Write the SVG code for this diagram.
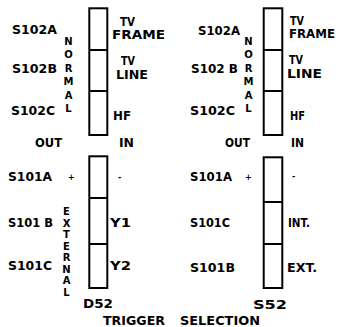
<svg xmlns="http://www.w3.org/2000/svg" width="339" height="327" viewBox="0 0 339 327">
<style>
.bx{fill:none;stroke:#000;stroke-width:2}
.dv{stroke:#000;stroke-width:2}
text{font-family:"DejaVu Sans","Liberation Sans",sans-serif;font-weight:bold;font-size:11.5px;fill:#000}
.v{font-size:10px;text-anchor:middle}
.s{font-size:8px}
</style>
<rect width="339" height="327" fill="#fff"/>
<g id="switch-d52-upper">
<rect class="bx" x="89.3" y="8.3" width="18" height="126.7"/>
<line class="dv" x1="89.3" y1="50" x2="107.3" y2="50"/>
<line class="dv" x1="89.3" y1="91" x2="107.3" y2="91"/>
<text x="12" y="34" textLength="45" lengthAdjust="spacingAndGlyphs">S102A</text>
<text x="12" y="73" textLength="45" lengthAdjust="spacingAndGlyphs">S102B</text>
<text x="11" y="115" textLength="44" lengthAdjust="spacingAndGlyphs">S102C</text>
<text x="120" y="26" textLength="15" lengthAdjust="spacingAndGlyphs">TV</text>
<text x="112" y="39" textLength="53" lengthAdjust="spacingAndGlyphs">FRAME</text>
<text x="121" y="65" textLength="14" lengthAdjust="spacingAndGlyphs">TV</text>
<text x="116" y="79" textLength="32" lengthAdjust="spacingAndGlyphs">LINE</text>
<text x="113" y="120" textLength="18" lengthAdjust="spacingAndGlyphs">HF</text>
<text class="v" x="68.5" y="45">N</text>
<text class="v" x="68.5" y="58">O</text>
<text class="v" x="68.5" y="72">R</text>
<text class="v" x="68.5" y="85">M</text>
<text class="v" x="68.5" y="99">A</text>
<text class="v" x="68.5" y="112">L</text>
<text x="35" y="147" textLength="27" lengthAdjust="spacingAndGlyphs">OUT</text>
<text x="119" y="147" textLength="15" lengthAdjust="spacingAndGlyphs">IN</text>
</g>
<g id="switch-d52-lower">
<rect class="bx" x="89.3" y="156.3" width="18" height="131.7"/>
<line class="dv" x1="89.3" y1="198" x2="107.3" y2="198"/>
<line class="dv" x1="89.3" y1="244" x2="107.3" y2="244"/>
<text x="8" y="181" textLength="44" lengthAdjust="spacingAndGlyphs">S101A</text>
<text class="s" x="68" y="180">+</text>
<text class="s" x="118" y="180">-</text>
<text x="8" y="227" textLength="45" lengthAdjust="spacingAndGlyphs">S101 B</text>
<text x="8" y="270" textLength="44" lengthAdjust="spacingAndGlyphs">S101C</text>
<text x="110" y="227" textLength="21" lengthAdjust="spacingAndGlyphs">Y1</text>
<text x="110" y="270" textLength="21" lengthAdjust="spacingAndGlyphs">Y2</text>
<text class="v" x="66.5" y="215">E</text>
<text class="v" x="66.5" y="226.5">X</text>
<text class="v" x="66.5" y="238">T</text>
<text class="v" x="66.5" y="249.5">E</text>
<text class="v" x="66.5" y="261">R</text>
<text class="v" x="66.5" y="272.5">N</text>
<text class="v" x="66.5" y="284">A</text>
<text class="v" x="66.5" y="296">L</text>
<text x="83" y="308" textLength="30" lengthAdjust="spacingAndGlyphs">D52</text>
</g>
<g id="switch-s52-upper">
<rect class="bx" x="263.7" y="8.3" width="18.6" height="126.7"/>
<line class="dv" x1="263.7" y1="50" x2="282.3" y2="50"/>
<line class="dv" x1="263.7" y1="91" x2="282.3" y2="91"/>
<text x="198" y="35" textLength="42" lengthAdjust="spacingAndGlyphs">S102A</text>
<text x="191" y="73" textLength="47" lengthAdjust="spacingAndGlyphs">S102 B</text>
<text x="190" y="115" textLength="45" lengthAdjust="spacingAndGlyphs">S102C</text>
<text x="290" y="25" textLength="14" lengthAdjust="spacingAndGlyphs">TV</text>
<text x="289" y="38" textLength="46" lengthAdjust="spacingAndGlyphs">FRAME</text>
<text x="289" y="64" textLength="14" lengthAdjust="spacingAndGlyphs">TV</text>
<text x="287" y="78" textLength="35" lengthAdjust="spacingAndGlyphs">LINE</text>
<text x="290" y="120" textLength="15" lengthAdjust="spacingAndGlyphs">HF</text>
<text class="v" x="248.5" y="45">N</text>
<text class="v" x="248.5" y="58">O</text>
<text class="v" x="248.5" y="72">R</text>
<text class="v" x="248.5" y="85">M</text>
<text class="v" x="248.5" y="99">A</text>
<text class="v" x="248.5" y="112">L</text>
<text x="225" y="147" textLength="25" lengthAdjust="spacingAndGlyphs">OUT</text>
<text x="291" y="147" textLength="13" lengthAdjust="spacingAndGlyphs">IN</text>
</g>
<g id="switch-s52-lower">
<rect class="bx" x="263.7" y="157.3" width="18.6" height="130.7"/>
<line class="dv" x1="263.7" y1="202" x2="282.3" y2="202"/>
<line class="dv" x1="263.7" y1="244" x2="282.3" y2="244"/>
<text x="190" y="181" textLength="42" lengthAdjust="spacingAndGlyphs">S101A</text>
<text class="s" x="245" y="180">+</text>
<text class="s" x="292" y="179">-</text>
<text x="190" y="227" textLength="40" lengthAdjust="spacingAndGlyphs">S101C</text>
<text x="288" y="227" textLength="22" lengthAdjust="spacingAndGlyphs">INT.</text>
<text x="190" y="272" textLength="45" lengthAdjust="spacingAndGlyphs">S101B</text>
<text x="287" y="272" textLength="30" lengthAdjust="spacingAndGlyphs">EXT.</text>
<text x="253" y="309" textLength="34" lengthAdjust="spacingAndGlyphs">S52</text>
</g>
<g id="caption">
<text x="103" y="325" textLength="62" lengthAdjust="spacingAndGlyphs">TRIGGER</text>
<text x="180" y="325" textLength="80" lengthAdjust="spacingAndGlyphs">SELECTION</text>
</g>
<g id="connectors"></g>
</svg>
